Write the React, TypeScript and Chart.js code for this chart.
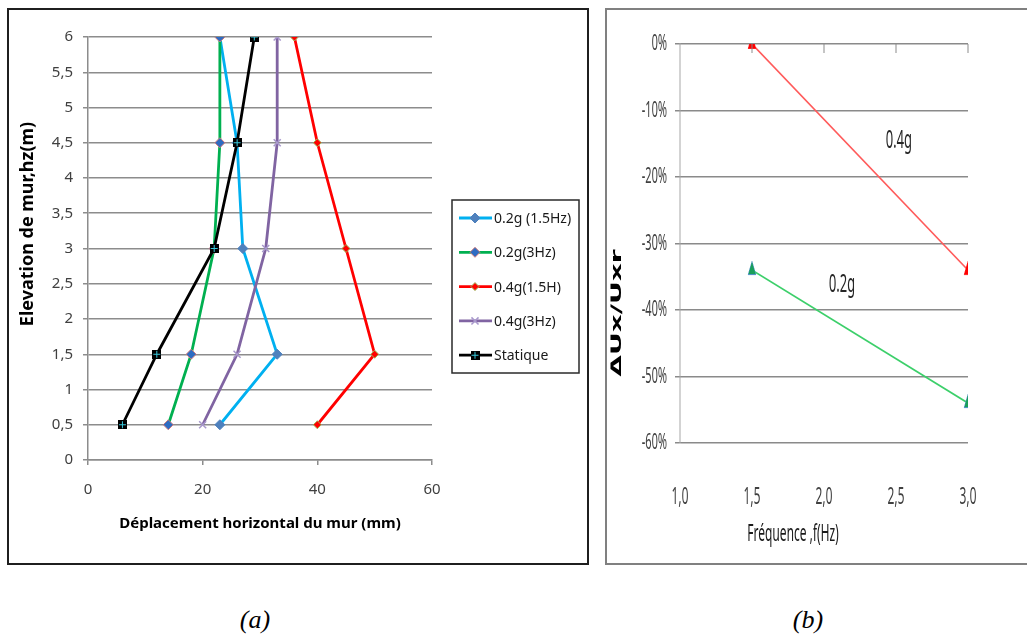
import React, { useEffect, useRef } from 'react';
import { Chart, registerables } from 'chart.js';
import { drawPoint } from 'chart.js/helpers';

Chart.register(...registerables);

// ---------- Chart (a) data ----------
const elevations = [0.5, 1.5, 3, 4.5, 6];
const disp02g15Hz = [23, 33, 27, 26, 23];
const disp02g3Hz = [14, 18, 22, 23, 23];
const disp04g15Hz = [40, 50, 45, 40, 36];
const disp04g3Hz = [20, 26, 31, 33, 33];
const dispStatique = [6, 12, 22, 26, 29];
const seriesLabelsA = ['0.2g (1.5Hz)', '0.2g(3Hz)', '0.4g(1.5H)', '0.4g(3Hz)', 'Statique'];
const xTitleA = 'Déplacement horizontal du mur (mm)';
const yTitleA = 'Elevation de mur,hz(m)';

// ---------- Chart (b) data ----------
const frequencies = [1.5, 3.0];
const ratio04g = [0, -0.34];
const ratio02g = [-0.34, -0.54];
const seriesLabelsB = ['0.4g', '0.2g'];
const xTitleB = 'Fréquence ,f(Hz)';
const yTitleB = 'ΔUx/Uxr';
const captions = ['(a)', '(b)'];

// annotation anchor points in data units (chart b)
const annotationAnchors = [
  { x: 2.52, y: -0.146 },
  { x: 2.125, y: -0.362 },
];

const SANS = '"Noto Sans", "Open Sans", "DejaVu Sans", sans-serif';
const SX = 2; // chart (b) is drawn at double width then squeezed horizontally

function makeStatiqueMarker(): HTMLCanvasElement {
  const c = document.createElement('canvas');
  c.width = 9;
  c.height = 9;
  const g = c.getContext('2d')!;
  g.fillStyle = '#000';
  g.fillRect(0, 0, 9, 9);
  g.strokeStyle = '#38c8dc';
  g.lineWidth = 1;
  g.beginPath();
  g.moveTo(4.5, 1);
  g.lineTo(4.5, 8);
  g.moveTo(1, 4.5);
  g.lineTo(8, 4.5);
  g.stroke();
  return c;
}

const pts = (xs: number[], ys: number[]) => xs.map((v, i) => ({ x: v, y: ys[i] }));

function configA(): any {
  const statique = makeStatiqueMarker();
  const datasets = [
    {
      label: seriesLabelsA[0], data: pts(disp02g15Hz, elevations),
      borderColor: '#00b0f0', pointStyle: 'rectRot', pointRadius: 5,
      pointBackgroundColor: '#4f81bd', pointBorderColor: '#4f81bd', pointBorderWidth: 1, order: 5,
    },
    {
      label: seriesLabelsA[1], data: pts(disp02g3Hz, elevations),
      borderColor: '#00b050', pointStyle: 'rectRot', pointRadius: 5,
      pointBackgroundColor: '#2e6cc2', pointBorderColor: '#d07a7a', pointBorderWidth: 1, order: 4,
    },
    {
      label: seriesLabelsA[2], data: pts(disp04g15Hz, elevations),
      borderColor: '#ff0000', pointStyle: 'rectRot', pointRadius: 4,
      pointBackgroundColor: '#ff0000', pointBorderColor: '#9bbb59', pointBorderWidth: 1, order: 3,
    },
    {
      label: seriesLabelsA[3], data: pts(disp04g3Hz, elevations),
      borderColor: '#8064a2', pointStyle: 'crossRot', pointRadius: 5,
      pointBackgroundColor: '#a898cc', pointBorderColor: '#a898cc', pointBorderWidth: 1.5, order: 2,
    },
    {
      label: seriesLabelsA[4], data: pts(dispStatique, elevations),
      borderColor: '#000000', pointStyle: statique, pointRadius: 5,
      pointBackgroundColor: '#000', pointBorderColor: '#000', pointBorderWidth: 1, order: 1,
    },
  ].map((d) => ({ ...d, showLine: true, borderWidth: 2.8, fill: false, tension: 0 }));

  const extras = {
    id: 'extrasA',
    afterDraw(chart: any) {
      const ctx = chart.ctx as CanvasRenderingContext2D;
      // y axis title
      ctx.save();
      ctx.translate(19, 214);
      ctx.rotate(-Math.PI / 2);
      ctx.font = `bold 18px ${SANS}`;
      ctx.fillStyle = '#000';
      ctx.textAlign = 'center';
      ctx.textBaseline = 'middle';
      ctx.fillText(yTitleA, 0, 0);
      ctx.restore();

      // legend box
      const bx = 443, by = 190, bw = 127, bh = 173;
      ctx.save();
      ctx.strokeStyle = '#2a2a2a';
      ctx.lineWidth = 1.5;
      ctx.strokeRect(bx, by, bw, bh);
      chart.data.datasets.forEach((ds: any, i: number) => {
        const y = 208 + i * 34.3;
        ctx.strokeStyle = ds.borderColor;
        ctx.lineWidth = 2.8;
        ctx.beginPath();
        ctx.moveTo(450, y);
        ctx.lineTo(483, y);
        ctx.stroke();
        ctx.fillStyle = ds.pointBackgroundColor;
        ctx.strokeStyle = ds.pointBorderColor;
        ctx.lineWidth = ds.pointBorderWidth;
        drawPoint(ctx, { pointStyle: ds.pointStyle, radius: ds.pointRadius, rotation: 0, borderWidth: ds.pointBorderWidth } as any, 466, y);
        ctx.fillStyle = '#1a1a1a';
        ctx.font = `14px ${SANS}`;
        ctx.textAlign = 'left';
        ctx.textBaseline = 'middle';
        ctx.fillText(ds.label, 485, y + 1);
      });
      ctx.restore();
    },
  };

  return {
    type: 'scatter',
    data: { datasets },
    plugins: [extras],
    options: {
      animation: false,
      responsive: false,
      layout: { padding: { left: 0, top: 27, right: 155, bottom: 0 } },
      plugins: { legend: { display: false }, tooltip: { enabled: false } },
      scales: {
        x: {
          type: 'linear', position: 'bottom', min: 0, max: 60,
          ticks: { stepSize: 20, color: '#404040', font: { family: SANS, size: 15 }, padding: 16, maxRotation: 0 },
          grid: { drawOnChartArea: false, drawTicks: true, tickLength: 5, color: '#8c8c8c', lineWidth: 1.5 },
          border: { display: true, color: '#8c8c8c', width: 1.5 },
          title: {
            display: true, text: xTitleA, color: '#000',
            font: { family: SANS, size: 15, weight: 'bold' }, padding: { top: 0, bottom: 30 },
          },
          afterFit: (s: any) => { s.height = 103; },
        },
        y: {
          type: 'linear', position: 'left', min: 0, max: 6,
          ticks: {
            stepSize: 0.5, color: '#404040', font: { family: SANS, size: 15 }, padding: 10,
            callback: (v: any) => String(v).replace('.', ','),
          },
          grid: { color: '#8c8c8c', lineWidth: 1.5, tickLength: 5 },
          border: { color: '#8c8c8c', width: 1.5 },
          afterFit: (s: any) => { s.width = 79; },
        },
      },
    },
  };
}

function configB(): any {
  const datasets = [
    {
      label: seriesLabelsB[0], data: pts(frequencies, ratio04g),
      borderColor: '#ff5a5a', pointBackgroundColor: '#ff0000', pointBorderColor: '#ff2020',
    },
    {
      label: seriesLabelsB[1], data: pts(frequencies, ratio02g),
      borderColor: '#3ccf6a', pointBackgroundColor: '#1a9f5a', pointBorderColor: '#4a8fc8',
    },
  ].map((d) => ({
    ...d, showLine: true, borderWidth: 2, pointStyle: 'triangle', pointRadius: 9, pointBorderWidth: 1,
    fill: false, tension: 0,
  }));

  const extras = {
    id: 'extrasB',
    afterDraw(chart: any) {
      const ctx = chart.ctx as CanvasRenderingContext2D;
      const xs = chart.scales.x;
      const ys = chart.scales.y;
      const top = chart.chartArea.top;
      ctx.save();
      // small tick marks hanging from the 0% axis line
      ctx.strokeStyle = '#8a8a8a';
      ctx.lineWidth = 2;
      xs.ticks.forEach((t: any) => {
        if (t.value <= 1) return;
        const px = xs.getPixelForValue(t.value);
        ctx.beginPath();
        ctx.moveTo(px, top);
        ctx.lineTo(px, top + 9);
        ctx.stroke();
      });
      // series annotations
      ctx.fillStyle = '#262626';
      ctx.font = `26px ${SANS}`;
      ctx.textAlign = 'center';
      ctx.textBaseline = 'middle';
      seriesLabelsB.forEach((lbl, i) => {
        const a = annotationAnchors[i];
        ctx.fillText(lbl, xs.getPixelForValue(a.x), ys.getPixelForValue(a.y));
      });
      // x title
      ctx.fillStyle = '#1a1a1a';
      ctx.font = `24px ${SANS}`;
      ctx.fillText(xTitleB, 372, 524);
      // y title
      ctx.translate(21, 303);
      ctx.rotate(-Math.PI / 2);
      ctx.font = `bold 28px "DejaVu Sans", ${SANS}`;
      ctx.fillStyle = '#000';
      ctx.fillText(yTitleB, 0, 0);
      ctx.restore();
    },
  };

  return {
    type: 'scatter',
    data: { datasets },
    plugins: [extras],
    options: {
      animation: false,
      responsive: false,
      layout: { padding: { left: 0, top: 34, right: 118, bottom: 0 } },
      plugins: { legend: { display: false }, tooltip: { enabled: false } },
      scales: {
        x: {
          type: 'linear', position: 'bottom', min: 1, max: 3,
          ticks: {
            stepSize: 0.5, color: '#404040', font: { family: SANS, size: 24 }, padding: 40,
            maxRotation: 0, minRotation: 0, autoSkip: false,
            callback: (v: any) => Number(v).toFixed(1).replace('.', ','),
          },
          grid: { display: false, drawTicks: false, tickLength: 0 },
          border: { display: false },
          afterFit: (s: any) => { s.height = 120; },
        },
        y: {
          type: 'linear', position: 'left', min: -0.6, max: 0,
          ticks: {
            stepSize: 0.1, color: '#404040', font: { family: SANS, size: 22 }, padding: 16,
            callback: (v: any) => `${Math.round(Number(v) * 100) || 0}%`,
          },
          grid: { color: '#8a8a8a', lineWidth: 1.5, tickLength: 10 },
          border: { color: '#a6a6a6', width: 2 },
          afterFit: (s: any) => { s.width = 146; },
        },
      },
    },
  };
}

export default function App() {
  const refA = useRef<HTMLCanvasElement>(null);
  const refB = useRef<HTMLCanvasElement>(null);

  useEffect(() => {
    const a = new Chart(refA.current!, configA());
    const b = new Chart(refB.current!, configB());
    return () => {
      a.destroy();
      b.destroy();
    };
  }, []);

  const captionStyle: React.CSSProperties = {
    position: 'absolute', top: 603, width: 100, textAlign: 'center',
    font: 'italic 26px "Liberation Serif", "DejaVu Serif", serif', lineHeight: '34px', color: '#000',
  };

  return (
    <div style={{ position: 'absolute', left: 0, top: 0, width: 1027, height: 636, overflow: 'hidden', background: '#fff' }}>
      <div style={{ position: 'absolute', left: 7, top: 8, width: 582, height: 557, border: '2px solid #1f1f1f', boxSizing: 'border-box' }}>
        <canvas ref={refA} width={578} height={553} style={{ position: 'absolute', left: 0, top: 0, width: '578px', height: '553px' }} />
      </div>
      <div style={{
        position: 'absolute', left: 605, top: 8, width: 440, height: 557, boxSizing: 'border-box',
        borderLeft: '2px solid #808080', borderTop: '2px solid #808080', borderBottom: '2px solid #808080',
      }}>
        <canvas ref={refB} width={420 * SX} height={553} style={{ position: 'absolute', left: 0, top: 0, width: '420px', height: '553px' }} />
      </div>
      <div style={{ ...captionStyle, left: 205 }}>{captions[0]}</div>
      <div style={{ ...captionStyle, left: 758 }}>{captions[1]}</div>
    </div>
  );
}
